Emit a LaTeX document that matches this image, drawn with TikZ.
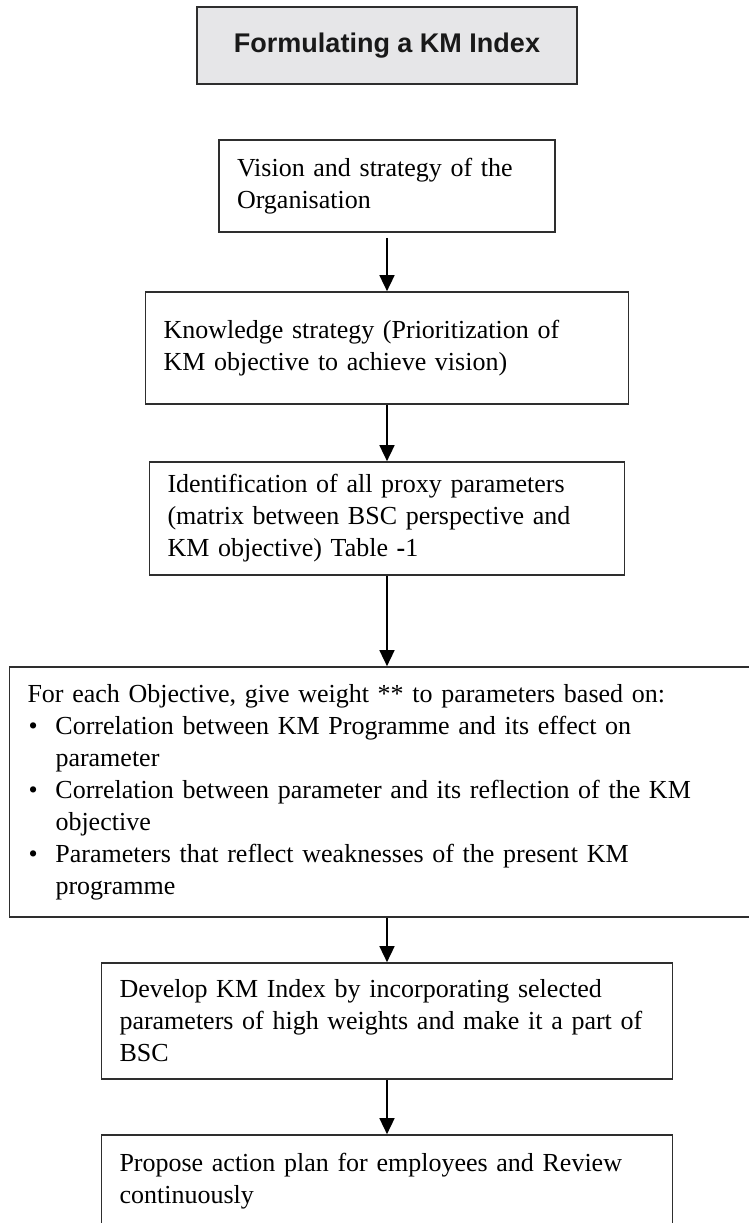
\documentclass[tikz,border=0pt]{standalone}
\usepackage{fontspec}
\setmainfont{Liberation Serif}
\newfontfamily\titlefont{Liberation Sans}
\usetikzlibrary{arrows.meta,positioning}

\definecolor{boxline}{HTML}{2E2E2E}
\definecolor{titlefill}{HTML}{E6E6E8}

\newcommand{\bodyfont}{\fontsize{26pt}{32pt}\selectfont}
\newcommand{\bitem}{\hspace*{1pt}\makebox[27pt][l]{\textbullet}}
\newcommand{\bcont}{\hspace*{28pt}}

\tikzset{
    stepbox/.style={draw=boxline, line width=1.7pt, align=left, inner xsep=18pt,
        inner ysep=0pt, font=\bodyfont, text=black},
    titlebox/.style={draw=boxline, fill=titlefill, line width=1.9pt,
        minimum width=380pt, minimum height=77pt,
        font=\titlefont\bfseries\fontsize{27pt}{32pt}\selectfont, text=black!90},
    flowarrow/.style={-{Triangle[width=15pt,length=16pt]}, line width=1.6pt, black}
}

\begin{document}
\begin{tikzpicture}[x=1pt, y=-1pt]
    \useasboundingbox (0,0) rectangle (749,1223);

    % Title
    \node[titlebox] (title) at (387,45.5) {Formulating a KM Index};

    % Steps
    \node[stepbox, text width=300pt, minimum height=92pt] (vision) at (387,186)
        {Vision and strategy of the\\Organisation};
    \node[stepbox, text width=447pt, minimum height=112pt] (strategy) at (387,348)
        {Knowledge strategy (Prioritization of\\KM objective to achieve vision)};
    \node[stepbox, text width=439pt, minimum height=113pt] (proxy) at (387,518.5)
        {Identification of all proxy parameters\\(matrix between BSC perspective and\\KM objective) Table {\bfseries -}1};
    \node[stepbox, text width=719pt, minimum height=250pt] (weight) at (387,792)
        {For each Objective, give weight ** to parameters based on:\\
         \bitem Correlation between KM Programme and its effect on\\
         \bcont parameter\\
         \bitem Correlation between parameter and its reflection of the KM\\
         \bcont objective\\
         \bitem Parameters that reflect weaknesses of the present KM\\
         \bcont programme};
    \node[stepbox, text width=535pt, minimum height=116pt] (index) at (387,1021)
        {Develop KM Index by incorporating selected\\parameters of high weights and make it a part of\\BSC};
    \node[stepbox, text width=535pt, minimum height=92pt] (review) at (387,1181)
        {Propose action plan for employees and Review\\continuously};

    % Flow
    \draw[flowarrow] ([yshift=-5pt]vision.south) -- (strategy.north);
    \draw[flowarrow] (strategy) -- (proxy);
    \draw[flowarrow] (proxy) -- (weight);
    \draw[flowarrow] (weight) -- (index);
    \draw[flowarrow] (index) -- (review);
\end{tikzpicture}
\end{document}
